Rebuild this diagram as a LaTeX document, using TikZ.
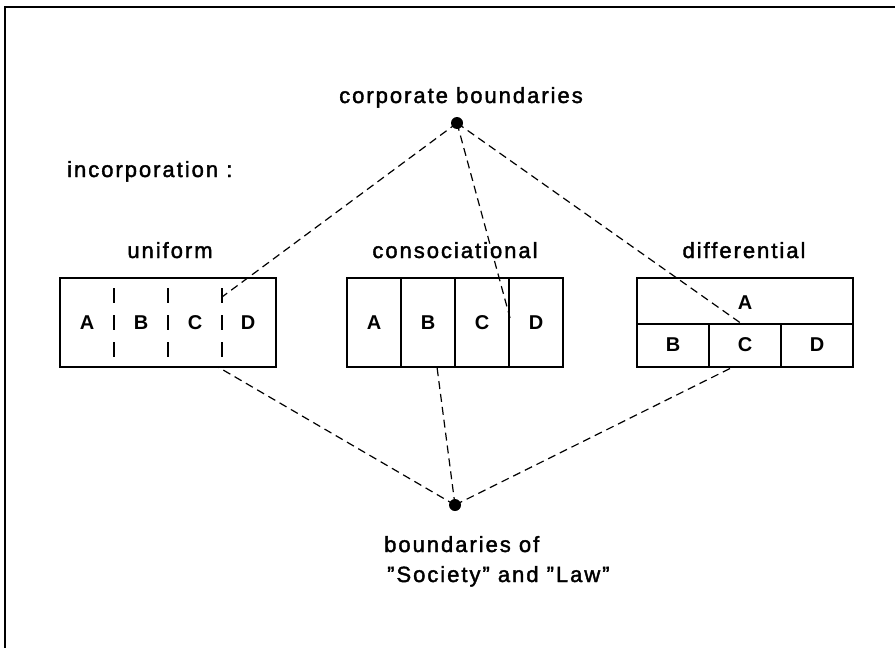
\documentclass[tikz,border=0pt]{standalone}
\usepackage{fontspec}
\setmainfont{Liberation Sans}[LetterSpace=9,FakeBold=1.8]
\newfontfamily\cellfont{Liberation Sans Bold}
\begin{document}
\begin{tikzpicture}[x=1pt,y=-1pt,
  frame/.style={line width=2.2pt},
  cellbox/.style={draw, line width=2.4pt, minimum width=216pt, minimum height=89pt, inner sep=0pt},
  divider/.style={line width=1.5pt},
  splitline/.style={line width=1.5pt, dash pattern=on 15pt off 12pt, dash phase=17pt},
  conn/.style={line width=1.2pt, dash pattern=on 8pt off 5pt},
  dot/.style={circle, fill, inner sep=0pt, minimum size=12pt},
  label/.style={font=\fontsize{22}{26}\selectfont, inner sep=0pt},
  cell/.style={font=\cellfont\fontsize{20}{24}\selectfont, inner sep=0pt}]
\useasboundingbox (0,0) rectangle (895,648);

% page frame (top and left edges)
\draw[frame] (895,7) -- (5,7) -- (5,648);

% headings
\node[label, anchor=base] (corp) at (461,103) {corporate boundaries};
\node[label, anchor=base west] (incorp) at (67,177) {incorporation :};
\node[label, anchor=base] (uni) at (170,258) {uniform};
\node[label, anchor=base] (cons) at (455,258) {consociational};
\node[label, anchor=base] (diff) at (744,258) {differential};
\node[label, anchor=base west] (soc1) at (384,552) {boundaries of};
\node[label, anchor=base west] (soc2) at (387,582) {"Society" and "Law"};

% the two boundary points
\node[dot] (top) at (457,123) {};
\node[dot] (bot) at (455,505) {};

% uniform incorporation
\node[cellbox] (ubox) at (168,322.5) {};
\foreach \x in {114,168,222}
  \draw[splitline] (\x,278) -- (\x,367);
\foreach \l/\x in {A/87,B/141,C/195,D/248}
  \node[cell] (u\l) at (\x,323) {\l};

% consociational incorporation
\node[cellbox] (cbox) at (455,322.5) {};
\foreach \x in {401,455,509}
  \draw[divider] (\x,278) -- (\x,367);
\foreach \l/\x in {A/374,B/428,C/482,D/536}
  \node[cell] (c\l) at (\x,323) {\l};

% differential incorporation
\node[cellbox] (dbox) at (745,322.5) {};
\draw[divider] (637,324) -- (853,324);
\foreach \x in {709,781}
  \draw[divider] (\x,324) -- (\x,367);
\node[cell] (dA) at (745,303) {A};
\foreach \l/\x in {B/673,C/745,D/817}
  \node[cell] (d\l) at (\x,345) {\l};

% connector end points on the boxes
\coordinate (uT) at (222,297);
\coordinate (cT) at (510,318);
\coordinate (dT) at (742,324);
\coordinate (uB) at (218,367);
\coordinate (cB) at (437,367);
\coordinate (dB) at (733,367);

% dashed connectors
\draw[conn] (top.center) -- (uT);
\draw[conn] (top.center) -- (cT);
\draw[conn] (top.center) -- (dT);
\draw[conn] (bot.center) -- (uB);
\draw[conn] (bot.center) -- (cB);
\draw[conn] (bot.center) -- (dB);
\end{tikzpicture}
\end{document}
